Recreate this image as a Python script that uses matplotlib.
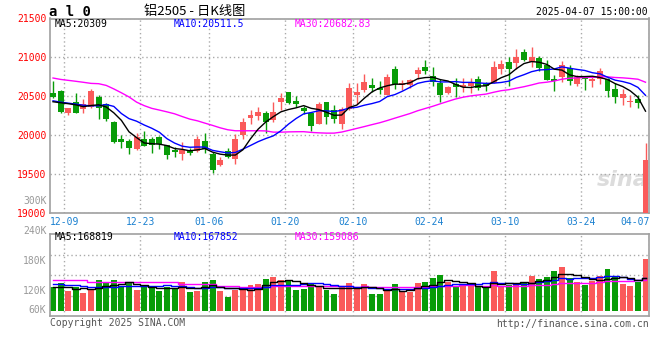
import numpy as np
import pandas as pd
import matplotlib
matplotlib.use('Agg')
import matplotlib.pyplot as plt

# daily candles, 2024-12-06 .. 2025-04-07
opens = [20545, 20571, 20284, 20425, 20340, 20365, 20490, 20400, 20172, 19954,
         19924, 19821, 19950, 19950, 19976, 19873, 19809, 19757, 19809, 19800,
         19924, 19761, 19616, 19796, 19693, 20001, 20220, 20250, 20284, 20194,
         20425, 20554, 20438, 20346, 20284, 20147, 20425, 20323, 20147, 20340,
         20515, 20580, 20644, 20601, 20519, 20850, 20644, 20644, 20790, 20875,
         20760, 20666, 20541, 20661, 20618, 20635, 20721, 20666, 20674, 20850,
         20940, 20927, 21068, 20940, 20987, 20901, 20721, 20751, 20866, 20661,
         20760, 20700, 20717, 20717, 20589, 20477, 20421, 20460, 18900]
highs = [20700, 20580, 20352, 20545, 20464, 20593, 20515, 20410, 20180, 20001,
         19950, 20027, 20053, 19972, 19990, 19880, 19843, 19908, 19838, 19989,
         20027, 19779, 19719, 19830, 20014, 20216, 20323, 20361, 20310, 20425,
         20541, 20560, 20499, 20374, 20300, 20430, 20430, 20387, 20361, 20670,
         20670, 20789, 20734, 20695, 20789, 20888, 20704, 20720, 20875, 20965,
         20875, 20717, 20630, 20738, 20734, 20738, 20760, 20687, 20952, 20965,
         21004, 21107, 21107, 21136, 21020, 20965, 20773, 20952, 20901, 20773,
         20760, 20760, 20866, 20738, 20666, 20589, 20516, 20519, 19895]
lows = [20480, 20288, 20262, 20285, 20288, 20345, 20207, 20181, 19905, 19834,
        19761, 19809, 19855, 19774, 19826, 19697, 19715, 19684, 19740, 19783,
        19774, 19517, 19603, 19702, 19629, 19954, 20143, 20194, 20023, 20172,
        20323, 20396, 20361, 20271, 20057, 20140, 20147, 20152, 20083, 20330,
        20400, 20558, 20550, 20528, 20515, 20593, 20580, 20610, 20721, 20789,
        20635, 20430, 20528, 20486, 20550, 20545, 20580, 20563, 20666, 20789,
        20635, 20850, 20956, 20871, 20828, 20705, 20571, 20679, 20640, 20635,
        20580, 20614, 20661, 20494, 20408, 20383, 20361, 20344, 18850]
closes = [20494, 20301, 20348, 20290, 20400, 20571, 20345, 20207, 19915, 19915,
          19838, 19972, 19860, 19869, 19886, 19744, 19783, 19809, 19774, 19950,
          19826, 19552, 19680, 19715, 19950, 20168, 20258, 20297, 20172, 20297,
          20477, 20409, 20404, 20314, 20121, 20400, 20237, 20207, 20331, 20605,
          20558, 20683, 20610, 20580, 20747, 20661, 20674, 20708, 20837, 20824,
          20683, 20519, 20618, 20618, 20644, 20666, 20610, 20635, 20875, 20910,
          20850, 21004, 20965, 21004, 20866, 20712, 20695, 20905, 20700, 20751,
          20717, 20717, 20824, 20571, 20486, 20528, 20438, 20417, 19676]
volumes = [123500, 143800, 101500, 120100, 93000, 106600, 157300, 145500, 157300, 126900,
           140400, 106600, 123500, 118400, 101500, 123500, 118400, 147100, 96400, 101500,
           147100, 157300, 101500, 71000, 106600, 123500, 131900, 137000, 162400, 172500,
           157300, 152200, 106600, 111600, 140400, 126900, 106600, 86300, 126900, 142100,
           121800, 137000, 86300, 86300, 101500, 137000, 101500, 96400, 142100, 147100,
           167400, 182700, 147100, 121800, 126900, 126900, 121800, 121800, 203000, 121800,
           131900, 137000, 147100, 177600, 162400, 172500, 203000, 223300, 167400, 147100,
           131900, 152200, 177600, 213100, 170800, 137000, 126900, 145500, 263800]

ma5_head = [20430, 20417, 20405, 20390]
ma10_head = [20442, 20425, 20412, 20400, 20385, 20378, 20378, 20395, 20370]
ma30_head = [20735, 20717, 20705, 20693, 20680, 20666, 20662, 20640, 20595, 20545,
             20492, 20425, 20380, 20345, 20323, 20300, 20275, 20240, 20207, 20185,
             20155, 20126, 20095, 20070, 20057, 20057, 20057, 20057, 20055]
vma5_head = [120000, 120000, 120000, 112000]
vma10_head = [137000, 137000, 133000, 130000, 126000, 123000, 121000, 122000, 124000]
vma30_head = [157000] * 5 + [149000] * 6 + [145000] * 6 + [136000] * 5 + [125000] * 3 + [121000] * 4

tick_idx = [1, 11, 20, 30, 39, 49, 59, 69, 78]
tick_labels = ['12-09', '12-23', '01-06', '01-20', '02-10', '02-24', '03-10', '03-24', '04-07']

RED = '#fa5a5a'
GREEN = '#089c08'
GRID = '#aaaaaa'
BORDER = '#a0a0a0'
BLUE_TXT = '#1a80d0'
MONO = 'DejaVu Sans Mono'

W, H = 660, 360


def moving_avg(values, n, head):
    ma = pd.Series(values, dtype=float).rolling(n).mean().values
    ma[:n - 1] = head
    return ma


def style_axes(ax):
    for s in ax.spines.values():
        s.set_color(BORDER)
        s.set_linewidth(1.2)
    ax.tick_params(length=0)


x = np.arange(len(closes))
o = np.array(opens, dtype=float)
c = np.array(closes, dtype=float)
colors = np.where(c >= o, RED, GREEN)

fig = plt.figure(figsize=(W / 100, H / 100), dpi=100)
ax = fig.add_axes([50 / W, 1 - 213 / H, 599.3 / W, 194.5 / H])
axv = fig.add_axes([50 / W, 1 - 316 / H, 599.3 / W, 81.7 / H])

# --- price panel ---
ax.text(0.955, 0.17, 'sina', transform=ax.transAxes, ha='center', va='center',
        fontsize=16, fontstyle='italic', fontweight='bold', color='#dcdcdc', zorder=0)
ax.vlines(x, lows, highs, colors=colors, lw=1, zorder=2)
body_h = np.maximum(np.abs(c - o), 10)
ax.bar(x, body_h, bottom=np.minimum(o, c), width=0.78, color=colors, linewidth=0, zorder=3)
ax.plot(x, moving_avg(closes, 30, ma30_head), color='#ff00ff', lw=1, zorder=4)
ax.plot(x, moving_avg(closes, 10, ma10_head), color='#0000ff', lw=1, zorder=4)
ax.plot(x, moving_avg(closes, 5, ma5_head), color='black', lw=1, zorder=4)

ax.set_xlim(-0.4, 78.5)
ax.set_ylim(19000, 21500)
ax.set_yticks([19000, 19500, 20000, 20500, 21000, 21500])
ax.set_yticklabels(['19000', '19500', '20000', '20500', '21000', '21500'],
                   color='#ff0000', fontfamily=MONO, fontsize=7)
ax.set_xticks(np.array(tick_idx) + 0.5)
ax.set_xticklabels(tick_labels, color=BLUE_TXT, fontfamily=MONO, fontsize=7)
ax.get_xticklabels()[-1].set_ha('right')
ax.tick_params(axis='y', pad=2.5)
ax.tick_params(axis='x', pad=3)
ax.grid(True, color=GRID, linestyle=(0, (1, 2)), lw=1)
style_axes(ax)

# --- volume panel ---
vol = np.array(volumes, dtype=float)
axv.bar(x, vol, width=0.78, color=colors, linewidth=0, zorder=2)
axv.plot(x, moving_avg(volumes, 30, vma30_head), color='#ff00ff', lw=1, drawstyle='steps-mid', zorder=3)
axv.plot(x, moving_avg(volumes, 10, vma10_head), color='#0000ff', lw=1, drawstyle='steps-mid', zorder=3)
axv.plot(x, moving_avg(volumes, 5, vma5_head), color='black', lw=1, drawstyle='steps-mid', zorder=3)
axv.set_xlim(-0.4, 78.5)
vlo, vhi = -25400, 389200
axv.set_ylim(vlo, vhi)
axv.set_yticks(np.linspace(vlo, vhi, 5)[1:-1])
axv.set_yticklabels([])
axv.set_xticks(np.array(tick_idx) + 0.5)
axv.set_xticklabels([])
axv.grid(True, color=GRID, linestyle=(0, (1, 2)), lw=1)
style_axes(axv)

for label, frac in [('240K', 1.04), ('180K', 0.67), ('120K', 0.31), ('60K', 0.07)]:
    axv.text(-0.006, frac, label, transform=axv.transAxes, ha='right', va='center',
             fontfamily=MONO, fontsize=7, color='#999999')

# --- header / footer texts ---
fig.text(49 / W, 1 - 11.5 / H, 'a l 0', ha='left', va='center',
         fontfamily=MONO, fontweight='bold', fontsize=10)
fig.text(195 / W, 1 - 11.5 / H, '铝2505 - 日K线图', ha='center', va='center',
         fontfamily=['Noto Sans CJK SC', 'DejaVu Sans'], fontsize=9.5)
fig.text(648 / W, 1 - 12.3 / H, '2025-04-07 15:00:00', ha='right', va='center',
         fontfamily=MONO, fontsize=7)
fig.text(46.5 / W, 1 - 200.7 / H, '300K', ha='right', va='center',
         fontfamily=MONO, fontsize=7, color='#999999')

main_legend = [(55, 'MA5:20309', 'black'), (174, 'MA10:20511.5', '#0000ff'), (295, 'MA30:20682.83', '#ff00ff')]
for px, txt, col in main_legend:
    fig.text(px / W, 1 - 24 / H, txt, ha='left', va='center', fontfamily=MONO, fontsize=7, color=col)
vol_legend = [(55, 'MA5:168819', 'black'), (174, 'MA10:167852', '#0000ff'), (295, 'MA30:159086', '#ff00ff')]
for px, txt, col in vol_legend:
    fig.text(px / W, 1 - 237.5 / H, txt, ha='left', va='center', fontfamily=MONO, fontsize=7, color=col)

fig.text(50 / W, 1 - 323.5 / H, 'Copyright 2025 SINA.COM', ha='left', va='center',
         fontfamily=MONO, fontsize=7, color='#555555')
fig.text(648.5 / W, 1 - 324 / H, 'http://finance.sina.com.cn', ha='right', va='center',
         fontfamily=MONO, fontsize=7, color='#555555')

fig.savefig('out.png', dpi=100)
